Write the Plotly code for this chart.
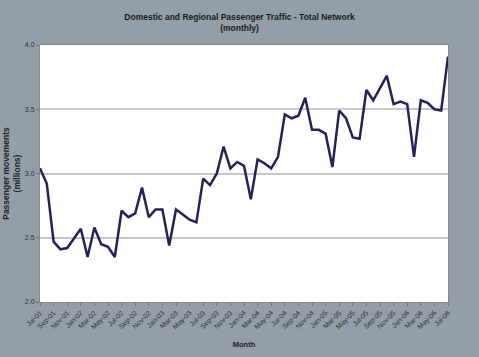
import plotly.graph_objects as go

month_names = ["Jan","Feb","Mar","Apr","May","Jun","Jul","Aug","Sep","Oct","Nov","Dec"]
categories = []
for k in range(61):
    m = (6 + k) % 12
    yr = 1 + (6 + k) // 12
    categories.append(f"{month_names[m]}-{yr:02d}")

passengers = [
    3.04, 2.92, 2.47, 2.41, 2.42, 2.50, 2.57, 2.35, 2.58, 2.45, 2.43, 2.35,
    2.71, 2.66, 2.69, 2.89, 2.66, 2.72, 2.72, 2.44, 2.72, 2.68, 2.64, 2.62,
    2.96, 2.91, 3.00, 3.21, 3.04, 3.09, 3.06, 2.80, 3.11, 3.08, 3.04, 3.13,
    3.46, 3.43, 3.45, 3.59, 3.34, 3.34, 3.31, 3.05, 3.49, 3.43, 3.28, 3.27,
    3.65, 3.57, 3.67, 3.76, 3.54, 3.56, 3.54, 3.13, 3.57, 3.55, 3.50, 3.49,
    3.91,
]

tick_labels = categories[::2]
y_ticks = [2.0, 2.5, 3.0, 3.5, 4.0]
y_tick_text = ["2.0", "2.5", "3.0", "3.5", "4.0"]

fig = go.Figure()
fig.add_trace(go.Scatter(
    x=categories, y=passengers, mode="lines",
    line=dict(color="#22235a", width=2.5),
    hoverinfo="skip",
))

font_family = "Liberation Sans, Arial, sans-serif"
fig.update_layout(
    width=479, height=357,
    paper_bgcolor="#939ea8",
    plot_bgcolor="#ffffff",
    margin=dict(l=40, r=31, t=45, b=55, autoexpand=False),
    showlegend=False,
    title=dict(
        text="<b>Domestic and Regional Passenger Traffic - Total Network<br>(monthly)</b>",
        x=0.5, xanchor="center", y=0.945, yanchor="top",
        font=dict(family=font_family, size=8.5, color="#1a1a1a"),
    ),
    font=dict(family=font_family, color="#2a2a2a"),
)
fig.update_xaxes(
    type="category", automargin=False,
    categoryorder="array", categoryarray=categories,
    range=[0, 60],
    tickmode="array", tickvals=tick_labels, ticktext=tick_labels,
    tickangle=-45,
    tickfont=dict(size=7, color="#333333"),
    ticks="outside", ticklen=3, tickcolor="#777777",
    showgrid=False,
    showline=True, linecolor="#888888", linewidth=1, mirror=True,
    title=dict(text="<b>Month</b>", font=dict(size=7.5, color="#222222"), standoff=11),
)
fig.update_yaxes(
    range=[2.0, 4.0], automargin=False,
    tickmode="array", tickvals=y_ticks, ticktext=y_tick_text,
    tickfont=dict(size=7, color="#333333"),
    ticks="outside", ticklen=3, tickcolor="#777777",
    showgrid=True, gridcolor="#c8c8c8", gridwidth=1.5,
    showline=True, linecolor="#888888", linewidth=1, mirror=True,
    zeroline=False,
    title=dict(text="<b>Passenger movements<br>(millions)</b>", font=dict(size=8.5, color="#222222"), standoff=2),
)

fig.write_html(
    "out.html",
    config={"displayModeBar": False},
    post_script="document.body.style.margin='0';document.body.style.background='#939ea8';",
)
